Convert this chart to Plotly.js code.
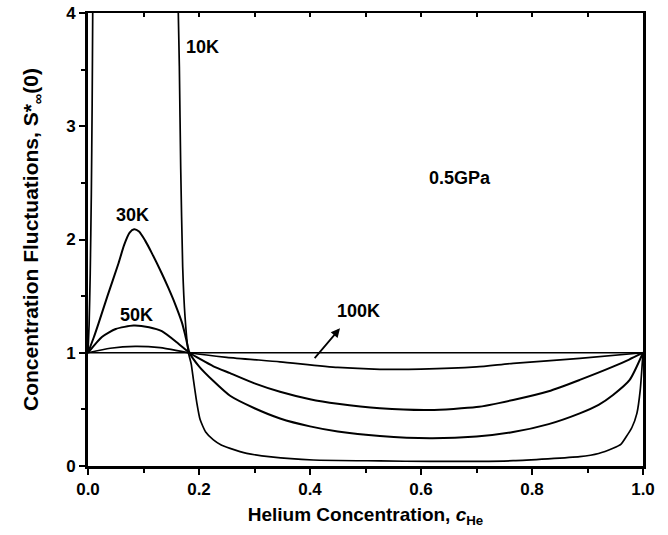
<!DOCTYPE html>
<html>
<head>
<meta charset="utf-8">
<script src="https://cdn.plot.ly/plotly-3.0.1.min.js"></script>
<style>
  html, body { margin: 0; padding: 0; background: #fff; }
  #chart { width: 668px; height: 535px; }
</style>
</head>
<body>
<div id="chart"></div>
<script>
// Concentration fluctuations S*∞(0) vs helium concentration at 0.5 GPa

// 10 K: two branches, separated by the miscibility gap (null breaks the line)
const c10K = [0, 0.002, 0.004, 0.006, 0.0075, 0.0085, 0.009, null,
  0.1615, 0.1627, 0.1646, 0.167, 0.1706, 0.1748, 0.181, 0.186, 0.19, 0.196, 0.202,
  0.212, 0.226, 0.24, 0.256, 0.286, 0.33, 0.406, 0.526, 0.616, 0.766, 0.886, 0.92,
  0.946, 0.96, 0.97, 0.98, 0.989, 0.995, 1.0];
const s10K = [1, 1.25, 1.7, 2.4, 3.2, 4.0, 4.4, null,
  4.4, 4.0, 3.53, 2.64, 1.76, 1.32, 1.0, 0.9, 0.76, 0.56, 0.41,
  0.3, 0.23, 0.185, 0.156, 0.112, 0.08, 0.053, 0.045, 0.04, 0.047, 0.082, 0.11,
  0.156, 0.19, 0.26, 0.34, 0.465, 0.67, 1.0];

const c30K = [0, 0.01, 0.019, 0.035, 0.055, 0.065, 0.075, 0.083, 0.092, 0.103, 0.115,
  0.133, 0.145, 0.157, 0.169, 0.175, 0.183, 0.2, 0.226, 0.256, 0.3, 0.346, 0.4, 0.45,
  0.526, 0.616, 0.7, 0.766, 0.83, 0.886, 0.92, 0.946, 0.976, 1.0];
const s30K = [1, 1.13, 1.26, 1.5, 1.79, 1.95, 2.06, 2.09, 2.07, 1.99, 1.88,
  1.70, 1.57, 1.43, 1.27, 1.16, 1.0, 0.88, 0.75, 0.62, 0.51, 0.42, 0.35, 0.305,
  0.265, 0.245, 0.26, 0.30, 0.37, 0.465, 0.54, 0.627, 0.76, 1.0];

const c50K = [0, 0.025, 0.05, 0.082, 0.11, 0.133, 0.163, 0.183, 0.226, 0.256, 0.3,
  0.346, 0.4, 0.45, 0.526, 0.616, 0.7, 0.766, 0.83, 0.886, 0.946, 0.975, 1.0];
const s50K = [1, 1.14, 1.21, 1.24, 1.225, 1.19, 1.08, 1.0, 0.88, 0.82, 0.73,
  0.656, 0.59, 0.55, 0.51, 0.495, 0.52, 0.583, 0.66, 0.76, 0.877, 0.94, 1.0];

const c100K = [0, 0.04, 0.085, 0.13, 0.183, 0.25, 0.346, 0.45, 0.526, 0.6, 0.7, 0.766, 0.886, 1.0];
const s100K = [1, 1.04, 1.057, 1.045, 1.0, 0.96, 0.92, 0.87, 0.854, 0.855, 0.875, 0.907, 0.95, 1.0];

// ideal-mixing reference
const cIdeal = [0, 1];
const sIdeal = [1, 1];

const family = 'Liberation Sans, Arial, sans-serif';
const noteFont = { family: family, size: 18, color: '#000', weight: 'bold' };
const xTitleFont = { family: family, size: 19, color: '#000', weight: 'bold' };
const yTitleFont = { family: family, size: 21, color: '#000', weight: 'bold' };
const tickFont = { family: family, size: 17, color: '#000', weight: 'bold' };

function curve(x, y, w, shape, smoothing) {
  return { x: x, y: y, type: 'scatter', mode: 'lines', hoverinfo: 'skip',
    line: { color: '#000', width: w, shape: shape || 'linear', smoothing: smoothing || 0.6 },
    connectgaps: false, showlegend: false };
}

const traces = [
  curve(cIdeal, sIdeal, 1.7),
  curve(c10K, s10K, 1.7, 'spline', 0.5),
  curve(c30K, s30K, 2, 'spline'),
  curve(c50K, s50K, 2, 'spline'),
  curve(c100K, s100K, 1.7, 'spline'),
  // carrier for the top tick axis
  { x: cIdeal, y: sIdeal, xaxis: 'x2', type: 'scatter', mode: 'lines',
    line: { width: 0, color: 'rgba(0,0,0,0)' }, hoverinfo: 'skip', showlegend: false }
];

const layout = {
  width: 668, height: 535,
  margin: { l: 88, r: 25, t: 13, b: 69 },
  paper_bgcolor: '#fff', plot_bgcolor: '#fff',
  showlegend: false,
  xaxis: {
    range: [0, 1], dtick: 0.2, tickformat: '.1f',
    showgrid: false, zeroline: false,
    showline: true, linecolor: '#000', linewidth: 2.5, mirror: true,
    ticks: 'outside', ticklen: 6, tickwidth: 2, tickcolor: '#000',
    minor: { dtick: 0.1, ticks: 'outside', ticklen: 4, tickwidth: 2, tickcolor: '#000' },
    tickfont: tickFont,
    title: { text: 'Helium Concentration, <i>c</i><sub>He</sub>', font: xTitleFont, standoff: 10 }
  },
  xaxis2: {
    overlaying: 'x', side: 'top', matches: 'x', range: [0, 1],
    showgrid: false, zeroline: false, showticklabels: false, showline: false,
    ticks: 'inside', dtick: 0.1, ticklen: 4, tickwidth: 2, tickcolor: '#000'
  },
  yaxis: {
    range: [0, 4], dtick: 1,
    showgrid: false, zeroline: false,
    showline: true, linecolor: '#000', linewidth: 3, mirror: true,
    ticks: 'outside', ticklen: 6, tickwidth: 2, tickcolor: '#000',
    minor: { dtick: 0.5, ticks: 'outside', ticklen: 4, tickwidth: 2, tickcolor: '#000' },
    tickfont: tickFont,
    title: { text: 'Concentration Fluctuations, S*<sub>∞</sub>(0)', font: yTitleFont, standoff: 22 }
  },
  annotations: [
    { x: 0.207, y: 3.70, text: '10K', showarrow: false, font: noteFont },
    { x: 0.081, y: 2.22, text: '30K', showarrow: false, font: noteFont },
    { x: 0.088, y: 1.33, text: '50K', showarrow: false, font: noteFont },
    { x: 0.487, y: 1.37, text: '100K', showarrow: false, font: noteFont },
    { x: 0.67, y: 2.54, text: '0.5GPa', showarrow: false, font: noteFont },
    { x: 0.454, y: 1.216, ax: 0.403, ay: 0.921, axref: 'x', ayref: 'y', text: ' ',
      showarrow: true, arrowhead: 2, arrowsize: 1, arrowwidth: 1.8, arrowcolor: '#000' }
  ]
};

Plotly.newPlot('chart', traces, layout, { staticPlot: true, displayModeBar: false });
</script>
</body>
</html>
